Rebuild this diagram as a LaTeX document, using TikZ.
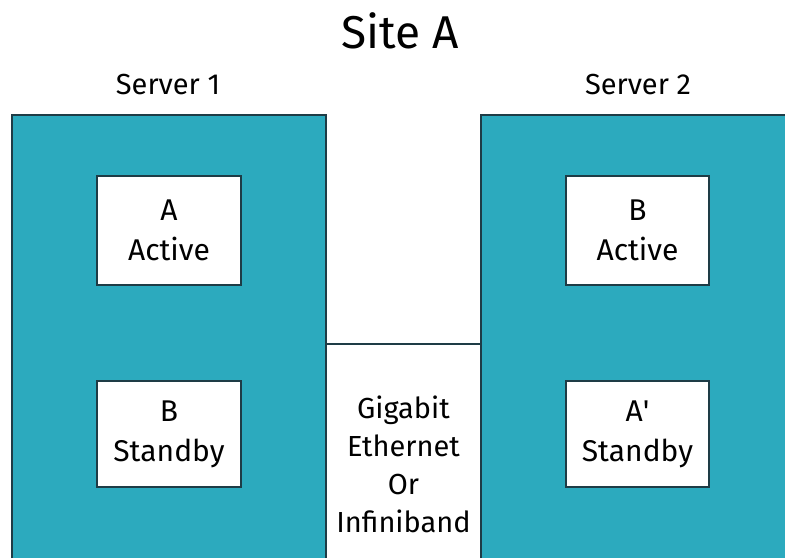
\documentclass[tikz,border=0pt]{standalone}
\usepackage{fontspec}
\setmainfont{Fira Sans}
\definecolor{teal}{RGB}{44,170,190}
\definecolor{edge}{RGB}{30,60,70}
\begin{document}
\begin{tikzpicture}[x=1pt,y=-1pt,
  server/.style={fill=teal,draw=edge,line width=1.2pt},
  vm/.style={fill=white,draw=edge,line width=1.2pt,align=center,font=\fontsize{30}{40}\selectfont,inner sep=0pt},
  lbl/.style={font=\fontsize{29}{34}\selectfont,inner sep=0pt}]
\useasboundingbox (0,0) rectangle (785,558);
% servers
\path[server] (12,558) |- (326,115) -- (326,558);
\path[server] (481,558) |- (790,115);
\fill[teal] (481.6,115.6) rectangle (790,558);
% interconnect
\draw[edge,line width=1.2pt] (326,344) -- (481,344);
\node[lbl,align=center,font=\fontsize{29}{38}\selectfont] (link) at (403.5,464) {Gigabit\\Ethernet\\Or\\Infiniband};
% guest boxes
\node[vm,minimum width=144pt,minimum height=109pt] (a1) at (169,230.5) {A\\Active};
\node[vm,minimum width=144pt,minimum height=106pt] (b1) at (169,434) {B\\Standby};
\node[vm,minimum width=143pt,minimum height=109pt] (b2) at (637.5,230.5) {B\\Active};
\node[vm,minimum width=143pt,minimum height=106pt] (a2) at (637.5,434) {A\textquotesingle\\Standby};
% titles
\node[lbl,font=\fontsize{46}{50}\selectfont] (site) at (400,31) {Site A};
\node[lbl] (s1) at (168,85) {Server 1};
\node[lbl] (s2) at (638,85) {Server 2};
\end{tikzpicture}
\end{document}
